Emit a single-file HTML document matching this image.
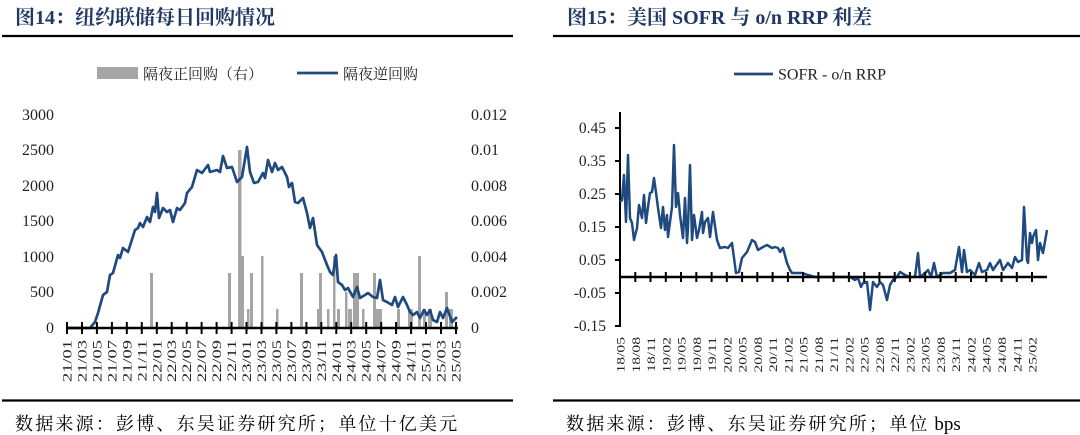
<!DOCTYPE html>
<html><head><meta charset="utf-8">
<style>
html,body{margin:0;padding:0;background:#fff;}
body{width:1080px;height:435px;overflow:hidden;}
svg{display:block;}
.t{font-family:"Liberation Serif","Noto Serif CJK SC",serif;}
</style></head>
<body>
<svg width="1080" height="435" viewBox="0 0 1080 435" xmlns="http://www.w3.org/2000/svg">
<rect width="1080" height="435" fill="#fff"/>
<!-- Titles -->
<text class="t" x="15" y="24" font-size="20" font-weight="bold" fill="#1f3864">图14：纽约联储每日回购情况</text>
<text class="t" x="567" y="24" font-size="20" font-weight="bold" fill="#1f3864">图15：美国 SOFR 与 o/n RRP 利差</text>
<line x1="2" y1="36" x2="513" y2="36" stroke="#000" stroke-width="2.2"/>
<line x1="553" y1="36" x2="1080" y2="36" stroke="#000" stroke-width="2.2"/>
<line x1="2" y1="400.5" x2="513" y2="400.5" stroke="#000" stroke-width="2.2"/>
<line x1="553" y1="400.5" x2="1080" y2="400.5" stroke="#000" stroke-width="2.2"/>
<text class="t" x="15" y="430" font-size="18" letter-spacing="2.2" fill="#000">数据来源：彭博、东吴证券研究所；单位十亿美元</text>
<text class="t" x="566" y="430" font-size="18" fill="#000"><tspan letter-spacing="2.2">数据来源：彭博、东吴证券研究所；单位</tspan><tspan font-size="19"> bps</tspan></text>

<!-- Left legend -->
<rect x="97" y="67" width="41" height="12" fill="#a5a5a5"/>
<text class="t" x="143" y="79" font-size="15" fill="#222">隔夜正回购（右）</text>
<line x1="297" y1="73" x2="338" y2="73" stroke="#1f4a7f" stroke-width="2.7"/>
<text class="t" x="343" y="79" font-size="15" fill="#222">隔夜逆回购</text>

<!-- Left y labels -->
<g class="t" font-size="16" fill="#222" text-anchor="end">
<text x="54" y="120">3000</text>
<text x="54" y="155">2500</text>
<text x="54" y="191">2000</text>
<text x="54" y="226">1500</text>
<text x="54" y="262">1000</text>
<text x="54" y="297">500</text>
<text x="54" y="333">0</text>
</g>
<g class="t" font-size="16" fill="#222">
<text x="471" y="120">0.012</text>
<text x="471" y="155">0.01</text>
<text x="471" y="191">0.008</text>
<text x="471" y="226">0.006</text>
<text x="471" y="262">0.004</text>
<text x="471" y="297">0.002</text>
<text x="471" y="333">0</text>
</g>

<!-- Left bars -->
<g fill="#a5a5a5">
<rect x="150" y="273" width="3" height="55"/>
<rect x="228" y="273" width="3" height="55"/>
<rect x="238" y="150" width="3.5" height="178"/>
<rect x="241" y="256" width="3" height="72"/>
<rect x="247" y="309" width="2.5" height="19"/>
<rect x="250" y="273" width="3" height="55"/>
<rect x="261" y="256" width="2.5" height="72"/>
<rect x="276" y="309" width="2.5" height="19"/>
<rect x="300" y="273" width="3" height="55"/>
<rect x="317" y="309" width="2.5" height="19"/>
<rect x="319" y="273" width="3" height="55"/>
<rect x="327" y="309" width="2.5" height="19"/>
<rect x="333" y="256" width="2.5" height="72"/>
<rect x="337" y="309" width="3" height="19"/>
<rect x="345" y="292" width="2.5" height="36"/>
<rect x="348" y="309" width="4" height="19"/>
<rect x="353" y="273" width="3" height="55"/>
<rect x="356" y="273" width="3" height="55"/>
<rect x="362" y="309" width="2.5" height="19"/>
<rect x="373" y="273" width="3" height="55"/>
<rect x="375" y="309" width="7" height="19"/>
<rect x="397" y="309" width="3" height="19"/>
<rect x="408" y="309" width="5" height="19"/>
<rect x="418" y="256" width="3" height="72"/>
<rect x="423" y="309" width="3" height="19"/>
<rect x="428" y="309" width="4" height="19"/>
<rect x="445" y="292" width="3" height="36"/>
<rect x="449" y="309" width="4" height="19"/>
</g>

<!-- Left line -->
<polyline fill="none" stroke="#1f4a7f" stroke-width="2.7" stroke-linejoin="round" points="67,328 90,328 95,322 98,313 103,295 107,292 110,275 113,273 118,255 120,258 123,248 128,252 135,230 138,228 140,223 143,227 147,217 150,222 153,207 155,212 157,193 159,218 163,208 167,212 170,210 173,222 177,208 180,210 185,203 187,193 192,187 197,170 202,173 208,165 210,172 217,170 220,172 223,156 227,168 232,167 237,182 242,177 247,147 250,172 254,183 258,182 263,173 265,178 268,160 272,172 275,163 278,170 282,167 287,177 289,187 292,183 295,202 298,203 303,198 307,213 310,228 313,218 317,245 322,252 327,265 330,272 333,275 336,255 338,282 342,285 345,290 348,288 353,297 357,287 360,298 365,295 368,293 373,297 377,298 380,280 383,300 387,302 392,305 395,297 398,307 403,297 407,305 410,312 413,315 417,312 420,318 424,310 427,315 430,310 433,320 437,322 440,312 443,318 447,308 452,322 454,320 457,317"/>

<!-- Left x axis -->
<line x1="66" y1="328" x2="458" y2="328" stroke="#000" stroke-width="2.5"/>
<g stroke="#000" stroke-width="2">
<line x1="67.0" y1="322" x2="67.0" y2="334"/><line x1="82.0" y1="322" x2="82.0" y2="334"/><line x1="96.9" y1="322" x2="96.9" y2="334"/><line x1="111.9" y1="322" x2="111.9" y2="334"/><line x1="126.8" y1="322" x2="126.8" y2="334"/><line x1="141.8" y1="322" x2="141.8" y2="334"/><line x1="156.8" y1="322" x2="156.8" y2="334"/><line x1="171.7" y1="322" x2="171.7" y2="334"/><line x1="186.7" y1="322" x2="186.7" y2="334"/><line x1="201.6" y1="322" x2="201.6" y2="334"/><line x1="216.6" y1="322" x2="216.6" y2="334"/><line x1="231.6" y1="322" x2="231.6" y2="334"/><line x1="246.5" y1="322" x2="246.5" y2="334"/><line x1="261.5" y1="322" x2="261.5" y2="334"/><line x1="276.4" y1="322" x2="276.4" y2="334"/><line x1="291.4" y1="322" x2="291.4" y2="334"/><line x1="306.4" y1="322" x2="306.4" y2="334"/><line x1="321.3" y1="322" x2="321.3" y2="334"/><line x1="336.3" y1="322" x2="336.3" y2="334"/><line x1="351.2" y1="322" x2="351.2" y2="334"/><line x1="366.2" y1="322" x2="366.2" y2="334"/><line x1="381.2" y1="322" x2="381.2" y2="334"/><line x1="396.1" y1="322" x2="396.1" y2="334"/><line x1="411.1" y1="322" x2="411.1" y2="334"/><line x1="426.0" y1="322" x2="426.0" y2="334"/><line x1="441.0" y1="322" x2="441.0" y2="334"/><line x1="456.0" y1="322" x2="456.0" y2="334"/>
</g>
<g class="t" font-size="13" fill="#222" text-anchor="end">
<text transform="translate(71.5,340) rotate(-90) scale(1.42,1)">21/01</text>
<text transform="translate(86.5,340) rotate(-90) scale(1.42,1)">21/03</text>
<text transform="translate(101.4,340) rotate(-90) scale(1.42,1)">21/05</text>
<text transform="translate(116.4,340) rotate(-90) scale(1.42,1)">21/07</text>
<text transform="translate(131.3,340) rotate(-90) scale(1.42,1)">21/09</text>
<text transform="translate(146.3,340) rotate(-90) scale(1.42,1)">21/11</text>
<text transform="translate(161.3,340) rotate(-90) scale(1.42,1)">22/01</text>
<text transform="translate(176.2,340) rotate(-90) scale(1.42,1)">22/03</text>
<text transform="translate(191.2,340) rotate(-90) scale(1.42,1)">22/05</text>
<text transform="translate(206.1,340) rotate(-90) scale(1.42,1)">22/07</text>
<text transform="translate(221.1,340) rotate(-90) scale(1.42,1)">22/09</text>
<text transform="translate(236.1,340) rotate(-90) scale(1.42,1)">22/11</text>
<text transform="translate(251.0,340) rotate(-90) scale(1.42,1)">23/01</text>
<text transform="translate(266.0,340) rotate(-90) scale(1.42,1)">23/03</text>
<text transform="translate(280.9,340) rotate(-90) scale(1.42,1)">23/05</text>
<text transform="translate(295.9,340) rotate(-90) scale(1.42,1)">23/07</text>
<text transform="translate(310.9,340) rotate(-90) scale(1.42,1)">23/09</text>
<text transform="translate(325.8,340) rotate(-90) scale(1.42,1)">23/11</text>
<text transform="translate(340.8,340) rotate(-90) scale(1.42,1)">24/01</text>
<text transform="translate(355.7,340) rotate(-90) scale(1.42,1)">24/03</text>
<text transform="translate(370.7,340) rotate(-90) scale(1.42,1)">24/05</text>
<text transform="translate(385.7,340) rotate(-90) scale(1.42,1)">24/07</text>
<text transform="translate(400.6,340) rotate(-90) scale(1.42,1)">24/09</text>
<text transform="translate(415.6,340) rotate(-90) scale(1.42,1)">24/11</text>
<text transform="translate(430.5,340) rotate(-90) scale(1.42,1)">25/01</text>
<text transform="translate(445.5,340) rotate(-90) scale(1.42,1)">25/03</text>
<text transform="translate(460.5,340) rotate(-90) scale(1.42,1)">25/05</text>
</g>

<!-- Right legend -->
<line x1="734" y1="74" x2="773" y2="74" stroke="#1f4a7f" stroke-width="2.7"/>
<text class="t" x="778" y="79.5" font-size="16" fill="#222">SOFR - o/n RRP</text>

<!-- Right y axis -->
<line x1="620" y1="112" x2="620" y2="327" stroke="#000" stroke-width="2"/>
<g stroke="#000" stroke-width="2">
<line x1="615" y1="128" x2="620" y2="128"/><line x1="615" y1="161" x2="620" y2="161"/><line x1="615" y1="194" x2="620" y2="194"/><line x1="615" y1="227" x2="620" y2="227"/><line x1="615" y1="260" x2="620" y2="260"/><line x1="615" y1="293" x2="620" y2="293"/><line x1="615" y1="326" x2="620" y2="326"/>
</g>
<g class="t" font-size="15.5" fill="#222" text-anchor="end">
<text x="606" y="133">0.45</text>
<text x="606" y="166">0.35</text>
<text x="606" y="199">0.25</text>
<text x="606" y="232">0.15</text>
<text x="606" y="265">0.05</text>
<text x="606" y="298">-0.05</text>
<text x="606" y="331">-0.15</text>
</g>

<!-- Right line -->
<polyline fill="none" stroke="#1f4a7f" stroke-width="2.5" stroke-linejoin="round" points="620,202 622,200 624,175 626,222 628,155 630,218 632,223 634,240 637,228 639,205 642,218 644,195 646,223 648,207 650,193 652,192 654,178 657,200 658,208 661,228 663,207 665,230 667,215 668,237 672,207 674,145 676,207 678,193 680,215 683,238 685,198 687,243 688,227 690,165 692,240 694,215 697,238 699,230 702,212 703,233 705,222 708,218 710,237 713,212 717,240 720,248 725,247 728,248 732,243 736,273 739,272 742,258 747,252 752,240 755,242 758,250 763,247 767,245 772,248 775,247 778,248 780,252 783,248 787,263 790,270 792,273 802,273 808,275 815,277 850,277 855,280 858,278 861,287 863,283 867,282 870,310 873,282 877,287 880,282 883,285 887,300 890,285 893,280 897,277 900,272 905,275 910,277 915,277 918,253 920,277 925,273 928,270 931,277 934,263 937,277 943,273 950,273 955,270 959,247 962,272 964,250 967,272 970,270 975,275 979,263 982,272 987,270 990,263 993,270 1000,260 1003,270 1008,263 1012,268 1015,257 1018,262 1022,260 1024,207 1027,260 1028,263 1030,233 1032,243 1033,237 1036,230 1038,260 1040,243 1043,253 1047,230"/>

<!-- Right x axis -->
<line x1="620" y1="277" x2="1047" y2="277" stroke="#000" stroke-width="2.5"/>
<g stroke="#000" stroke-width="2">
<line x1="635.3" y1="272" x2="635.3" y2="282"/><line x1="650.5" y1="272" x2="650.5" y2="282"/><line x1="665.8" y1="272" x2="665.8" y2="282"/><line x1="681.0" y1="272" x2="681.0" y2="282"/><line x1="696.3" y1="272" x2="696.3" y2="282"/><line x1="711.6" y1="272" x2="711.6" y2="282"/><line x1="726.8" y1="272" x2="726.8" y2="282"/><line x1="742.1" y1="272" x2="742.1" y2="282"/><line x1="757.3" y1="272" x2="757.3" y2="282"/><line x1="772.6" y1="272" x2="772.6" y2="282"/><line x1="787.9" y1="272" x2="787.9" y2="282"/><line x1="803.1" y1="272" x2="803.1" y2="282"/><line x1="818.4" y1="272" x2="818.4" y2="282"/><line x1="833.6" y1="272" x2="833.6" y2="282"/><line x1="848.9" y1="272" x2="848.9" y2="282"/><line x1="864.2" y1="272" x2="864.2" y2="282"/><line x1="879.4" y1="272" x2="879.4" y2="282"/><line x1="894.7" y1="272" x2="894.7" y2="282"/><line x1="909.9" y1="272" x2="909.9" y2="282"/><line x1="925.2" y1="272" x2="925.2" y2="282"/><line x1="940.5" y1="272" x2="940.5" y2="282"/><line x1="955.7" y1="272" x2="955.7" y2="282"/><line x1="971.0" y1="272" x2="971.0" y2="282"/><line x1="986.2" y1="272" x2="986.2" y2="282"/><line x1="1001.5" y1="272" x2="1001.5" y2="282"/><line x1="1016.8" y1="272" x2="1016.8" y2="282"/><line x1="1032.0" y1="272" x2="1032.0" y2="282"/>
</g>
<g class="t" font-size="12" fill="#222" text-anchor="end">
<text transform="translate(624.5,337) rotate(-90) scale(1.3,1)">18/05</text>
<text transform="translate(639.8,337) rotate(-90) scale(1.3,1)">18/08</text>
<text transform="translate(655.0,337) rotate(-90) scale(1.3,1)">18/11</text>
<text transform="translate(670.3,337) rotate(-90) scale(1.3,1)">19/02</text>
<text transform="translate(685.5,337) rotate(-90) scale(1.3,1)">19/05</text>
<text transform="translate(700.8,337) rotate(-90) scale(1.3,1)">19/08</text>
<text transform="translate(716.1,337) rotate(-90) scale(1.3,1)">19/11</text>
<text transform="translate(731.3,337) rotate(-90) scale(1.3,1)">20/02</text>
<text transform="translate(746.6,337) rotate(-90) scale(1.3,1)">20/05</text>
<text transform="translate(761.8,337) rotate(-90) scale(1.3,1)">20/08</text>
<text transform="translate(777.1,337) rotate(-90) scale(1.3,1)">20/11</text>
<text transform="translate(792.4,337) rotate(-90) scale(1.3,1)">21/02</text>
<text transform="translate(807.6,337) rotate(-90) scale(1.3,1)">21/05</text>
<text transform="translate(822.9,337) rotate(-90) scale(1.3,1)">21/08</text>
<text transform="translate(838.1,337) rotate(-90) scale(1.3,1)">21/11</text>
<text transform="translate(853.4,337) rotate(-90) scale(1.3,1)">22/02</text>
<text transform="translate(868.7,337) rotate(-90) scale(1.3,1)">22/05</text>
<text transform="translate(883.9,337) rotate(-90) scale(1.3,1)">22/08</text>
<text transform="translate(899.2,337) rotate(-90) scale(1.3,1)">22/11</text>
<text transform="translate(914.4,337) rotate(-90) scale(1.3,1)">23/02</text>
<text transform="translate(929.7,337) rotate(-90) scale(1.3,1)">23/05</text>
<text transform="translate(945.0,337) rotate(-90) scale(1.3,1)">23/08</text>
<text transform="translate(960.2,337) rotate(-90) scale(1.3,1)">23/11</text>
<text transform="translate(975.5,337) rotate(-90) scale(1.3,1)">24/02</text>
<text transform="translate(990.7,337) rotate(-90) scale(1.3,1)">24/05</text>
<text transform="translate(1006.0,337) rotate(-90) scale(1.3,1)">24/08</text>
<text transform="translate(1021.3,337) rotate(-90) scale(1.3,1)">24/11</text>
<text transform="translate(1036.5,337) rotate(-90) scale(1.3,1)">25/02</text>
</g>
</svg>
</body></html>
